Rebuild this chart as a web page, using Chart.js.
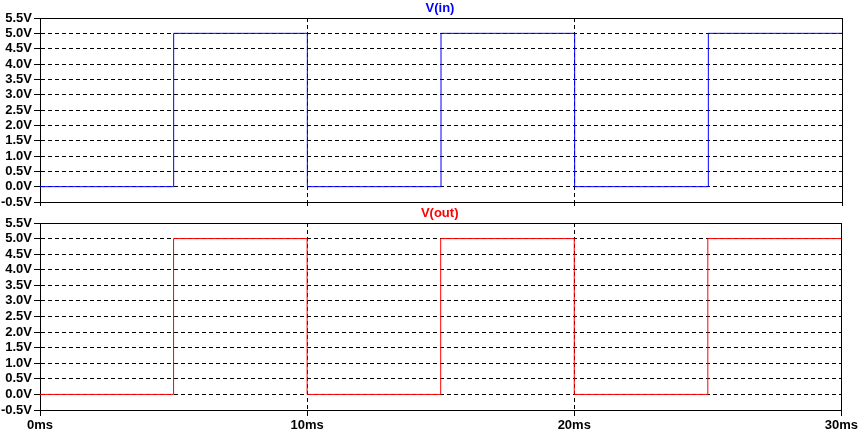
<!DOCTYPE html>
<html><head><meta charset="utf-8">
<script src="https://cdn.jsdelivr.net/npm/chart.js@4"></script>
<style>
html,body{margin:0;padding:0;background:#fff;width:860px;height:436px;overflow:hidden}
canvas{position:absolute;left:0}
</style></head><body>
<canvas id="c1" width="860" height="212" style="top:0"></canvas>
<canvas id="c2" width="860" height="236" style="top:200px"></canvas>
<script>
// Data (time in ms, voltage in V)
const timesMs = [0, 5, 10, 15, 20, 25, 30];
const vIn     = [0, 5, 0, 5, 0, 5, 5];
const vOut    = [0, 5, 0, 5, 0, 5, 5];
const paneTitles = ['V(in)', 'V(out)'];
const xTickLabels = {0: '0ms', 10: '10ms', 20: '20ms', 30: '30ms'};
const yMin = -0.5, yMax = 5.5, yStep = 0.5;

const FONT = {family: '"Liberation Sans", Arial, sans-serif', size: 13, weight: 'bold'};

const framePlugin = {
  id: 'frame',
  beforeDatasetsDraw(chart) {
    const {ctx, chartArea: a} = chart;
    ctx.save();
    ctx.strokeStyle = '#000';
    ctx.lineWidth = 1;
    ctx.setLineDash([]);
    const l = Math.round(a.left) + 0.5, t = Math.round(a.top) + 0.5;
    const r = Math.round(a.right) + 0.5, b = Math.round(a.bottom) + 0.5;
    ctx.strokeRect(l, t, r - l, b - t);
    ctx.restore();
  },
  afterDraw(chart, args, opts) {
    const {ctx, chartArea: a} = chart;
    ctx.save();
    ctx.font = 'bold 13px "Liberation Sans", Arial, sans-serif';
    ctx.fillStyle = opts.color;
    ctx.textAlign = 'center';
    ctx.textBaseline = 'middle';
    ctx.fillText(opts.text, (a.left + a.right) / 2 - 1, a.top - 10);
    ctx.restore();
  }
};

function makePane(id, values, color, title, showXLabels, xAxisHeight, padTop) {
  const data = timesMs.map((t, i) => ({x: t, y: values[i]}));
  return new Chart(document.getElementById(id), {
    type: 'line',
    data: {datasets: [{
      label: title,
      data,
      stepped: 'before',
      borderColor: color,
      borderWidth: 1,
      pointRadius: 0,
      fill: false
    }]},
    options: {
      responsive: false,
      animation: false,
      events: [],
      layout: {padding: {top: padTop, right: 18, bottom: 0, left: 0}},
      plugins: {
        legend: {display: false},
        tooltip: {enabled: false},
        title: {display: false},
        frame: {text: title, color: color}
      },
      scales: {
        x: {
          type: 'linear', min: 0, max: 30,
          afterFit(s) { s.height = xAxisHeight; },
          ticks: {
            display: showXLabels, stepSize: 10, padding: 2, color: '#000', font: FONT,
            maxRotation: 0, autoSkip: false,
            callback: v => xTickLabels[v] !== undefined ? xTickLabels[v] : ''
          },
          grid: {color: '#000', lineWidth: 1, tickLength: showXLabels ? 6 : 4, tickColor: '#000'},
          border: {display: true, color: '#000', width: 1, dash: [4, 3]}
        },
        y: {
          min: yMin, max: yMax,
          afterFit(s) { s.width = 40; },
          ticks: {
            stepSize: yStep, padding: 2, color: '#000', font: FONT, autoSkip: false,
            callback: v => (Math.round(v * 10) / 10).toFixed(1) + 'V'
          },
          grid: {color: '#000', lineWidth: 1, tickLength: 6, tickColor: '#000'},
          border: {display: true, color: '#000', width: 1, dash: [4, 3]}
        }
      }
    },
    plugins: [framePlugin]
  });
}

makePane('c1', vIn, '#0000ff', paneTitles[0], false, 10, 18);
makePane('c2', vOut, '#ff0000', paneTitles[1], true, 26, 23);
</script>
</body></html>
